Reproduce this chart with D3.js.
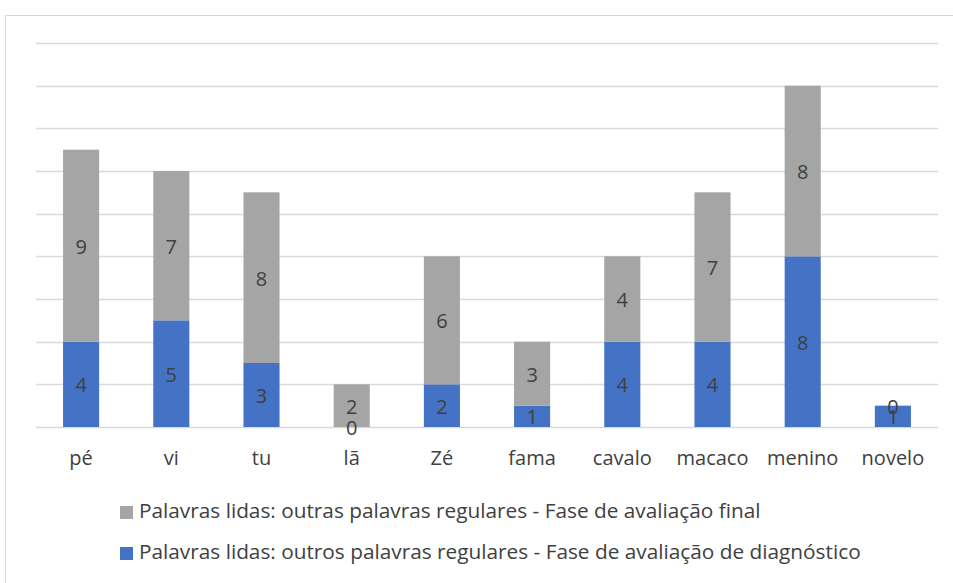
<!DOCTYPE html>
<html><head><meta charset="utf-8">
<script src="https://cdn.jsdelivr.net/npm/d3@7"></script>
<style>body{margin:0;background:#fff}svg{display:block}text{font-family:"Open Sans",sans-serif}</style>
</head><body><svg id="c" width="953" height="583"></svg>
<script>
const categories = ["pé","vi","tu","lã","Zé","fama","cavalo","macaco","menino","novelo"];
const diagnostico = [4,5,3,0,2,1,4,4,8,1];
const final = [9,7,8,2,6,3,4,7,8,0];
const seriesNames = ["Palavras lidas: outras palavras regulares - Fase de avaliação final","Palavras lidas: outros palavras regulares - Fase de avaliação de diagnóstico"];
const colors = {final:"#A5A5A5", diag:"#4472C4"};
const yTicks = [0,2,4,6,8,10,12,14,16,18];
const FONT = "'Open Sans',sans-serif";
const FS = 20;

const svg = d3.select("#c");
svg.append("rect").attr("x",5.5).attr("y",15.5).attr("width",1000).attr("height",1000).attr("fill","none").attr("stroke","#D9D9D9");
const x = d3.scaleBand().domain(categories).range([36,938]).paddingInner(0.6).paddingOuter(0.3);
const y = d3.scaleLinear().domain([0,18]).range([427,43]);

svg.append("g").selectAll("line").data(yTicks).join("line")
  .attr("x1",36).attr("x2",938).attr("y1",d=>Math.round(y(d))+0.5).attr("y2",d=>Math.round(y(d))+0.5)
  .attr("stroke","#D9D9D9").attr("stroke-width",1.3);

const data = categories.map((c,i)=>({c, d:diagnostico[i], f:final[i]}));
const g = svg.append("g");
g.selectAll("rect.d").data(data).join("rect").attr("class","d")
  .attr("x",d=>x(d.c)).attr("width",x.bandwidth())
  .attr("y",d=>y(d.d)).attr("height",d=>y(0)-y(d.d)).attr("fill",colors.diag);
g.selectAll("rect.f").data(data).join("rect").attr("class","f")
  .attr("x",d=>x(d.c)).attr("width",x.bandwidth())
  .attr("y",d=>y(d.d+d.f)).attr("height",d=>y(d.d)-y(d.d+d.f)).attr("fill",colors.final);

const lab = svg.append("g").attr("font-size",FS).attr("fill","#404040").attr("text-anchor","middle");
lab.selectAll("text.d").data(data).join("text")
  .attr("x",d=>x(d.c)+x.bandwidth()/2).attr("y",d=>y(d.d/2)).attr("dy","0.4em").text(d=>d.d);
lab.selectAll("text.f").data(data).join("text")
  .attr("x",d=>x(d.c)+x.bandwidth()/2).attr("y",d=>y(d.d+d.f/2)).attr("dy","0.4em").text(d=>d.f);

const ax = svg.append("g").attr("transform","translate(0,427)").call(d3.axisBottom(x).tickSize(0));
ax.select(".domain").remove();
ax.selectAll("text").attr("font-size",FS).attr("fill","#404040").attr("font-family",FONT).attr("y",38).attr("dy",0);

const leg = svg.append("g");
const legItems = [{n:seriesNames[0],c:colors.final,y:518},{n:seriesNames[1],c:colors.diag,y:559}];
legItems.forEach(it=>{
  leg.append("rect").attr("x",120).attr("y",it.y-12).attr("width",13).attr("height",13).attr("fill",it.c);
  leg.append("text").attr("x",139).attr("y",it.y).attr("font-size",20.8).attr("fill","#404040").text(it.n);
});
</script></body></html>
